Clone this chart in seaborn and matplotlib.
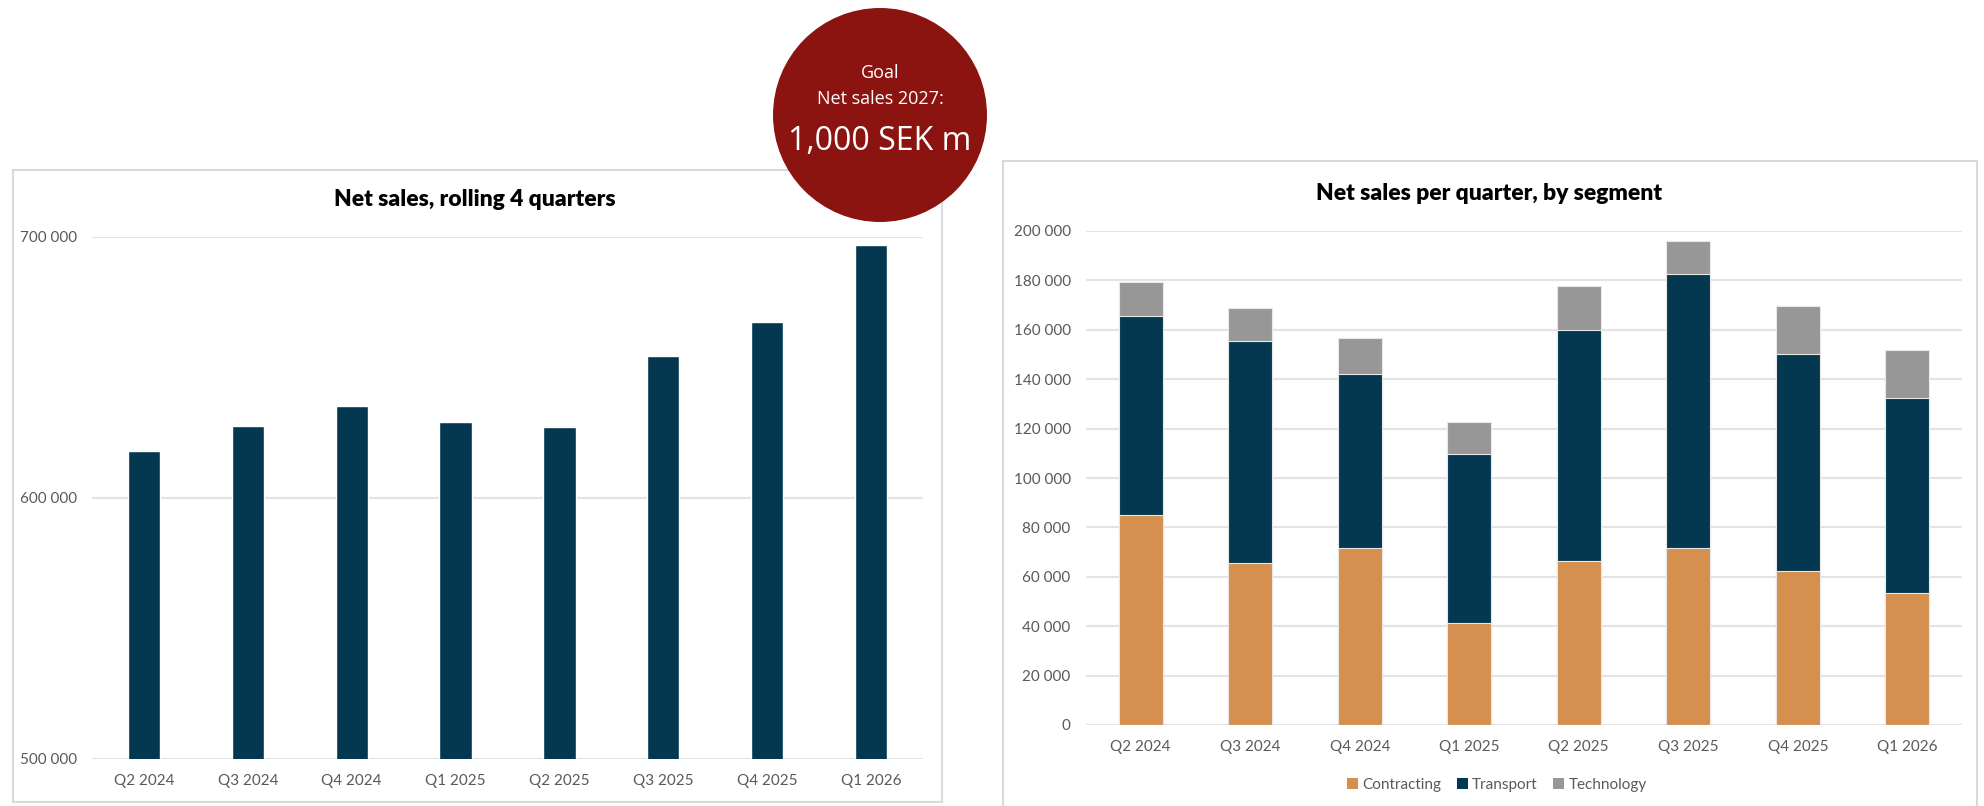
import matplotlib
matplotlib.use("Agg")
import matplotlib.pyplot as plt
from matplotlib.patches import Rectangle, Circle, Patch
from matplotlib.ticker import FuncFormatter, MultipleLocator
import seaborn as sns
import pandas as pd

# ---------------- data ----------------
quarters = ["Q2 2024", "Q3 2024", "Q4 2024", "Q1 2025",
            "Q2 2025", "Q3 2025", "Q4 2025", "Q1 2026"]
rolling_sales = [617900, 627600, 635200, 629000, 627300, 654500, 667500, 696800]

contracting = [85000, 65500, 71800, 41400, 66300, 71800, 62400, 53400]
transport = [80400, 90100, 70200, 68200, 93500, 110700, 87600, 78900]
technology = [14100, 13200, 14700, 13000, 18000, 13600, 19800, 19400]
segments = ["Contracting", "Transport", "Technology"]

goal_lines = ["Goal", "Net sales 2027:", "1,000 SEK m"]
title_left = "Net sales, rolling 4 quarters"
title_right = "Net sales per quarter, by segment"

# ---------------- style ----------------
sns.set_theme(style="white")
plt.rcParams["font.family"] = ["Lato", "DejaVu Sans"]

NAVY = "#033850"
ORANGE = "#D58F4F"
GREY = "#979797"
GRID = "#E3E3E3"
TICK = "#595959"
RED = "#8C1410"

W, H = 1984, 806
fig = plt.figure(figsize=(W / 100, H / 100), dpi=100)
fig.patch.set_facecolor("white")


def px_axes(x0, y0, x1, y1):
    return fig.add_axes([x0 / W, 1 - y1 / H, (x1 - x0) / W, (y1 - y0) / H])


def space_fmt(v, pos):
    return f"{int(round(v)):,}".replace(",", " ")


# panel borders
fig.add_artist(Rectangle((13 / W, 1 - 802 / H), (942 - 13) / W, (802 - 170) / H,
                         transform=fig.transFigure, fill=False,
                         edgecolor="#DADADA", linewidth=1.5, zorder=-1))
fig.add_artist(Rectangle((1003 / W, 1 - 812 / H), (1977 - 1003) / W, (812 - 161) / H,
                         transform=fig.transFigure, fill=False,
                         edgecolor="#DADADA", linewidth=1.5, zorder=-1))

# ---------------- left chart ----------------
axL = px_axes(92, 237, 923, 759)
dfL = pd.DataFrame({"quarter": quarters, "sales": rolling_sales})
sns.barplot(data=dfL, x="quarter", y="sales", color=NAVY, width=0.31,
            saturation=1, ax=axL, zorder=3)
axL.set_ylim(500000, 700000)
axL.yaxis.set_major_locator(MultipleLocator(100000))
axL.yaxis.set_major_formatter(FuncFormatter(space_fmt))
axL.grid(axis="y", color=GRID, linewidth=1.5, zorder=0)
axL.set_axisbelow(True)
for s in axL.spines.values():
    s.set_visible(False)
axL.set_xlabel("")
axL.set_ylabel("")
axL.tick_params(axis="both", length=0, labelsize=11, colors=TICK)
axL.tick_params(axis="y", pad=11)
axL.tick_params(axis="x", pad=11)
axL.set_xlim(-0.5, len(quarters) - 0.5)
fig.text(475 / W, 1 - 199 / H, title_left, ha="center", va="center",
         fontsize=16.5, fontweight="heavy", color="black")

# ---------------- right chart ----------------
axR = px_axes(1086, 231, 1962, 725)
cum1 = contracting
cum2 = [c + t for c, t in zip(contracting, transport)]
cum3 = [c + t + g for c, t, g in zip(contracting, transport, technology)]
dfR = pd.DataFrame({"quarter": quarters, "top": cum3, "mid": cum2, "low": cum1})
for col, colr in [("top", GREY), ("mid", NAVY), ("low", ORANGE)]:
    sns.barplot(data=dfR, x="quarter", y=col, color=colr, width=0.4,
                saturation=1, ax=axR, zorder=3, edgecolor="#E8E8E8",
                linewidth=0.8)
axR.set_ylim(0, 200000)
axR.yaxis.set_major_locator(MultipleLocator(20000))
axR.yaxis.set_major_formatter(FuncFormatter(space_fmt))
axR.grid(axis="y", color=GRID, linewidth=1.5, zorder=0)
axR.set_axisbelow(True)
for s in axR.spines.values():
    s.set_visible(False)
axR.set_xlabel("")
axR.set_ylabel("")
axR.tick_params(axis="both", length=0, labelsize=11, colors=TICK)
axR.tick_params(axis="y", pad=11)
axR.tick_params(axis="x", pad=11)
axR.set_xlim(-0.5, len(quarters) - 0.5)
fig.text(1489 / W, 1 - 194 / H, title_right, ha="center", va="center",
         fontsize=16.5, fontweight="heavy", color="black")

handles = [Patch(facecolor=c, edgecolor="none") for c in (ORANGE, NAVY, GREY)]
leg = fig.legend(handles, segments, loc="center", ncol=3,
                 bbox_to_anchor=(1497 / W, 1 - 785 / H), frameon=False,
                 fontsize=11, handlelength=0.7, handleheight=0.7,
                 handletextpad=0.3, columnspacing=1.0)
for t in leg.get_texts():
    t.set_color(TICK)

# ---------------- goal circle ----------------
axC = px_axes(880 - 115, 0, 880 + 115, 230)
axC.set_zorder(10)
axC.set_xlim(0, 1)
axC.set_ylim(0, 1)
axC.axis("off")
axC.add_patch(Circle((0.5, 0.5), 107 / 230, facecolor=RED, edgecolor="none"))
axC.text(0.5, 1 - 73 / 230, goal_lines[0], ha="center", va="center",
         color="white", fontsize=13, family=["Open Sans", "DejaVu Sans"])
axC.text(0.5, 1 - 99 / 230, goal_lines[1], ha="center", va="center",
         color="white", fontsize=13, family=["Open Sans", "DejaVu Sans"])
axC.text(0.5, 1 - 142 / 230, goal_lines[2], ha="center", va="center",
         color="white", fontsize=23, family=["Open Sans", "DejaVu Sans"])

fig.savefig("out.png", dpi=100, facecolor="white")
